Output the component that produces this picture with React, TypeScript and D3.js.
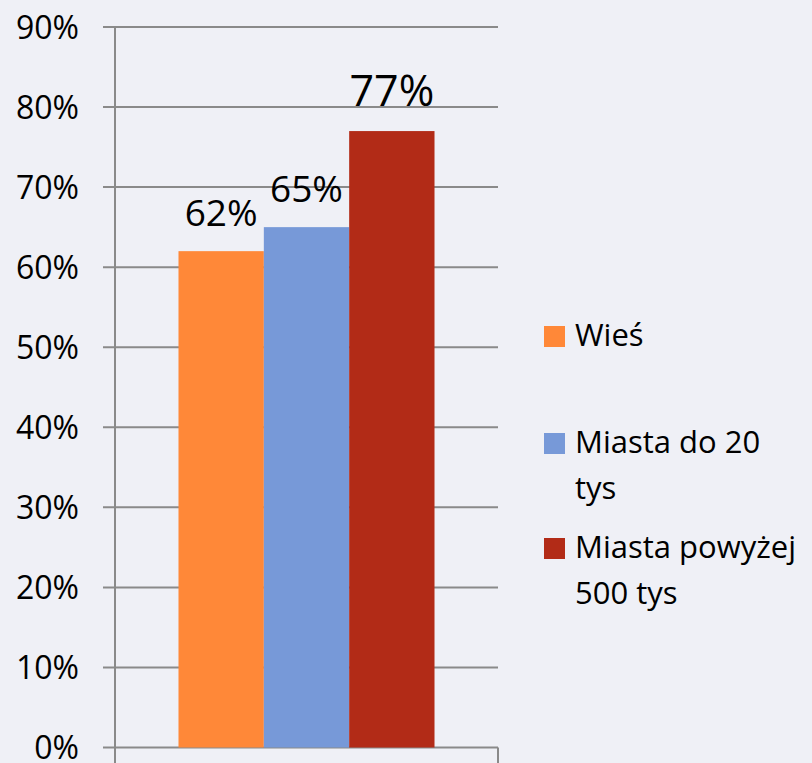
import React, { useEffect } from "react";
import * as d3 from "d3";

const categories = ["Wieś", "Miasta do 20 tys", "Miasta powyżej 500 tys"];
const values = [62, 65, 77];
const legendLines = [["Wieś"], ["Miasta do 20", "tys"], ["Miasta powyżej", "500 tys"]];
const yTicks = [0, 10, 20, 30, 40, 50, 60, 70, 80, 90];
const colors = ["#FF8838", "#7799D8", "#B22B17"];
const labelSizes = [37, 37, 43];

const W = 812;
const H = 763;
const FONT = "'Open Sans', sans-serif";

export default function App() {
  useEffect(() => {
    document.body.style.margin = "0";
  }, []);

  const y = d3.scaleLinear().domain([0, 90]).range([747.5, 27]);
  const plotLeft = 115;
  const plotRight = 498;
  const outer = d3.scaleBand().domain(["g"]).range([plotLeft, plotRight]).paddingInner(0).paddingOuter(0.248);
  const x = d3.scaleBand().domain(categories).range([outer("g")!, outer("g")! + outer.bandwidth()]).padding(0);

  const legendY = [346, 453, 558];

  return (
    <svg width={W} height={H} style={{ display: "block", background: "#eff0f6" }} fontFamily={FONT}>
      <rect x={0} y={0} width={W} height={H} fill="#eff0f6" />
      {yTicks.map((t) => (
        <g key={t}>
          <line x1={103} x2={plotRight} y1={y(t)} y2={y(t)} stroke="#8a8a8a" strokeWidth={2} />
          <text x={79} y={y(t)} dy="0.37em" textAnchor="end" fontSize={32} fill="#000">
            {t}%
          </text>
        </g>
      ))}
      {categories.map((c, i) => (
        <rect key={c} x={x(c)} y={y(values[i])} width={x.bandwidth()} height={y(0) - y(values[i])} fill={colors[i]} />
      ))}
      <line x1={plotLeft} x2={plotLeft} y1={y(90)} y2={H} stroke="#8a8a8a" strokeWidth={2} />
      <line x1={plotRight} x2={plotRight} y1={y(0)} y2={H} stroke="#8a8a8a" strokeWidth={2} />
      {categories.map((c, i) => (
        <text key={c} x={x(c)! + x.bandwidth() / 2} y={y(values[i]) - 25} textAnchor="middle" fontSize={labelSizes[i]} fill="#000">
          {values[i]}%
        </text>
      ))}
      {legendLines.map((lines, i) => (
        <g key={i}>
          <rect x={544} y={legendY[i] - 20} width={21} height={21} fill={colors[i]} />
          {lines.map((l, j) => (
            <text key={j} x={575} y={legendY[i] + j * 46} fontSize={31} fill="#000">
              {l}
            </text>
          ))}
        </g>
      ))}
    </svg>
  );
}
